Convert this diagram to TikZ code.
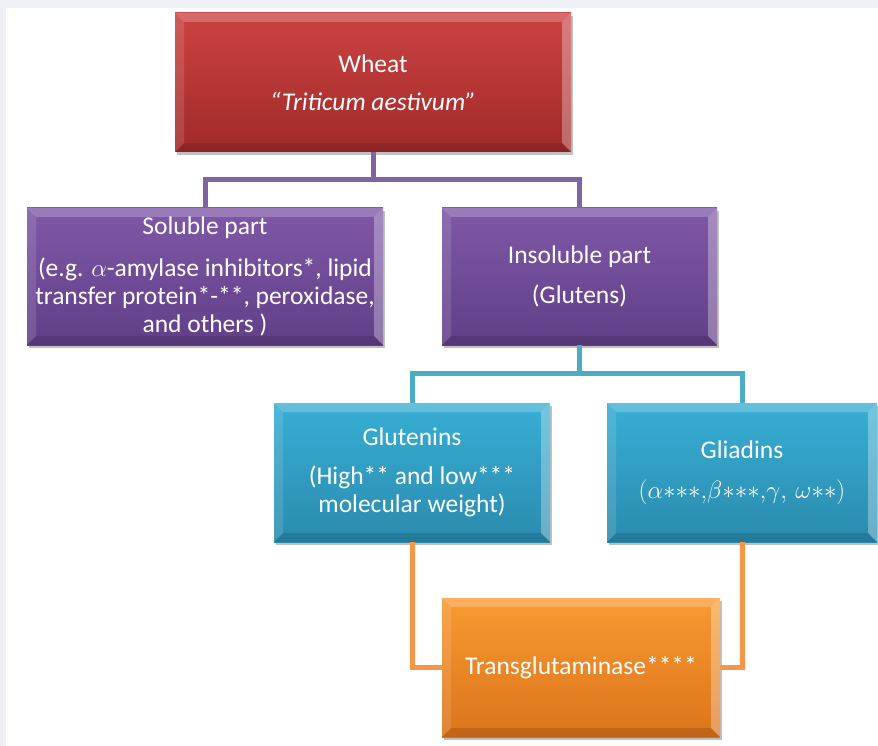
\documentclass[tikz,border=0pt]{standalone}
\usepackage{fontspec}
\setmainfont{Carlito}
\usetikzlibrary{shadows}
\definecolor{bggray}{HTML}{EEF0F5}
\definecolor{redtop}{HTML}{CC4341}
\definecolor{redbot}{HTML}{A02A29}
\definecolor{purtop}{HTML}{7F58A7}
\definecolor{purbot}{HTML}{613F88}
\definecolor{teatop}{HTML}{38AED4}
\definecolor{teabot}{HTML}{2A8BAE}
\definecolor{oratop}{HTML}{F99A31}
\definecolor{orabot}{HTML}{DB741B}
\definecolor{purline}{HTML}{8064A2}
\definecolor{tealine}{HTML}{4BACC6}
\definecolor{oraline}{HTML}{F79646}
\tikzset{
  bevelbox/.style={rectangle, inner sep=0pt, align=center, text=white,
    font=\fontsize{25.5}{28}\selectfont,
    drop shadow={shadow xshift=2pt, shadow yshift=-3pt, opacity=0.35, fill=black!70},
    path picture={
      \fill[white,opacity=0.22] (path picture bounding box.north west) -- (path picture bounding box.north east)
        -- ([xshift=-9pt,yshift=-9pt]path picture bounding box.north east) -- ([xshift=9pt,yshift=-9pt]path picture bounding box.north west) -- cycle;
      \fill[white,opacity=0.12] (path picture bounding box.north west) -- (path picture bounding box.south west)
        -- ([xshift=9pt,yshift=9pt]path picture bounding box.south west) -- ([xshift=9pt,yshift=-9pt]path picture bounding box.north west) -- cycle;
      \fill[black,opacity=0.12] (path picture bounding box.south west) -- (path picture bounding box.south east)
        -- ([xshift=-9pt,yshift=9pt]path picture bounding box.south east) -- ([xshift=9pt,yshift=9pt]path picture bounding box.south west) -- cycle;
      \fill[white,opacity=0.30] (path picture bounding box.north east) -- (path picture bounding box.south east)
        -- ([xshift=-9pt,yshift=9pt]path picture bounding box.south east) -- ([xshift=-9pt,yshift=-9pt]path picture bounding box.north east) -- cycle;
    }},
  redbox/.style={bevelbox, top color=redtop, bottom color=redbot},
  purbox/.style={bevelbox, top color=purtop, bottom color=purbot},
  teabox/.style={bevelbox, top color=teatop, bottom color=teabot},
  orabox/.style={bevelbox, top color=oratop, bottom color=orabot},
  link/.style={line width=5pt}
}
\begin{document}
\begin{tikzpicture}[x=1pt,y=-1pt]
\useasboundingbox (0,0) rectangle (878,746);
\fill[bggray] (0,0) rectangle (878,746);
\fill[white] (6,8) rectangle (878,746);

\node[redbox, minimum width=396pt, minimum height=139pt] (wheat) at (373,82.5)
  {Wheat\\[10pt]\textit{“Triticum aestivum”}};
\node[purbox, minimum width=356pt, minimum height=137pt] (sol) at (205,276.5)
  {Soluble part\\[14pt](e.g. $\alpha$-amylase inhibitors*, lipid\\transfer protein*-**, peroxidase,\\and others )};
\node[purbox, minimum width=275pt, minimum height=137pt] (insol) at (579.5,276.5)
  {Insoluble part\\[12pt](Glutens)};
\node[teabox, minimum width=276pt, minimum height=139pt] (glut) at (412,472.5)
  {Glutenins\\[11pt](High** and low***\\molecular weight)};
\node[teabox, minimum width=270pt, minimum height=139pt] (glia) at (742,472.5)
  {Gliadins\\[12pt]$(\alpha{*}{*}{*}{,}\beta{*}{*}{*}{,}\gamma,\,\omega{*}{*})$};
\node[orabox, minimum width=278pt, minimum height=139pt] (trans) at (581,667.5)
  {Transglutaminase****};

\draw[link, purline] (wheat.south) -- ++(0,27.5) coordinate (pj) -| (sol.north);
\draw[link, purline] (pj) -| (insol.north);
\draw[link, tealine] (insol.south) -- ++(0,28.5) coordinate (tj) -| (glut.north);
\draw[link, tealine] (tj) -| (glia.north);
\draw[link, oraline] (glut.south) |- (trans.west);
\draw[link, oraline] (glia.south) |- (trans.east);
\end{tikzpicture}
\end{document}
